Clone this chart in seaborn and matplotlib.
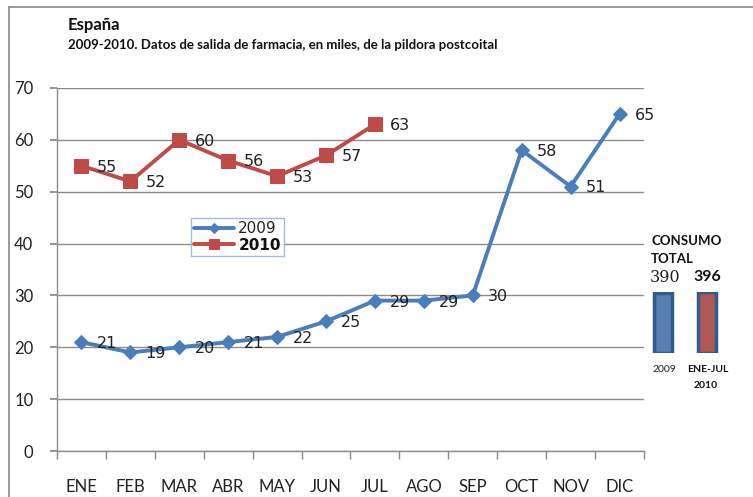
import matplotlib
matplotlib.use("Agg")
import matplotlib.pyplot as plt
import seaborn as sns
import pandas as pd
from matplotlib.lines import Line2D

months = ["ENE", "FEB", "MAR", "ABR", "MAY", "JUN", "JUL", "AGO", "SEP", "OCT", "NOV", "DIC"]
v2009 = [21, 19, 20, 21, 22, 25, 29, 29, 30, 58, 51, 65]
v2010 = [55, 52, 60, 56, 53, 57, 63]
totals_labels = ["2009", "ENE-JUL 2010"]
totals = [390, 396]
yticks = [0, 10, 20, 30, 40, 50, 60, 70]

C09 = "#4a7ebb"
C10 = "#be4b48"

sns.set_theme(style="white")
plt.rcParams["font.family"] = ["Lato", "DejaVu Sans"]

W, H = 753, 497
fig = plt.figure(figsize=(W / 100, H / 100), dpi=100)
fig.patch.set_facecolor("white")

# frame lines (left and top)
fig.add_artist(Line2D([9 / W, 9 / W], [0, 1 - 7 / H], color="#888888", lw=1.2))
fig.add_artist(Line2D([9 / W, 1], [1 - 7 / H, 1 - 7 / H], color="#888888", lw=1.2))

ax_l, ax_r, ax_b, ax_t = 57, 644, 451, 88
ax = fig.add_axes([ax_l / W, 1 - ax_b / H, (ax_r - ax_l) / W, (ax_b - ax_t) / H])

df09 = pd.DataFrame({"mes": months, "v": v2009})
df10 = pd.DataFrame({"mes": months[:len(v2010)], "v": v2010})

sns.lineplot(data=df09, x="mes", y="v", ax=ax, color=C09, lw=2.8, marker="D",
             markersize=7, markeredgecolor=C09, sort=False, label="2009")
sns.lineplot(data=df10, x="mes", y="v", ax=ax, color=C10, lw=2.8, marker="s",
             markersize=10, markeredgecolor=C10, sort=False, label="2010")

for i, v in enumerate(v2009):
    ax.annotate(str(v), (i, v), xytext=(11, -1), textcoords="offset points",
                ha="left", va="center", fontsize=11.5, color="#222222", family="DejaVu Sans")
for i, v in enumerate(v2010):
    ax.annotate(str(v), (i, v), xytext=(11, -1), textcoords="offset points",
                ha="left", va="center", fontsize=11.5, color="#222222", family="DejaVu Sans")

ax.set_xlim(-0.5, len(months) - 0.5)
ax.set_ylim(0, 70)
ax.set_yticks(yticks)
ax.set_yticklabels([str(t) for t in yticks], fontsize=12, color="#222222")
ax.set_xticks(range(len(months)))
ax.set_xticklabels(months, fontsize=12, color="#222222")
ax.set_xticks([i - 0.5 for i in range(len(months) + 1)], minor=True)
ax.tick_params(axis="x", which="major", length=0, pad=20)
ax.tick_params(axis="x", which="minor", length=6, color="#888888", direction="out", bottom=True)
ax.tick_params(axis="y", which="major", length=5, color="#888888", direction="out", pad=12, left=True)
ax.grid(axis="y", color="#8c8c8c", lw=1)
ax.set_axisbelow(True)
ax.set_xlabel("")
ax.set_ylabel("")
for s in ["top", "right"]:
    ax.spines[s].set_visible(False)
for s in ["left", "bottom"]:
    ax.spines[s].set_color("#8c8c8c")
    ax.spines[s].set_linewidth(1)

leg = ax.legend(loc="upper left", bbox_to_anchor=((191 - ax_l) / (ax_r - ax_l), (ax_b - 218) / (ax_b - ax_t)),
                frameon=True, fancybox=False, handlelength=2.6, markerscale=0.7,
                borderpad=0.2, labelspacing=0.1, handletextpad=0.3, borderaxespad=0,
                prop={"family": "DejaVu Sans", "size": 11})
leg.get_frame().set_edgecolor("#8fa9d6")
leg.get_frame().set_linewidth(1)
texts = leg.get_texts()
texts[0].set_color("#222222")
texts[1].set_fontweight("bold")
texts[1].set_color("#111111")

# titles
fig.text(68 / W, 1 - 25 / H, "España", fontsize=12, fontweight="bold", va="center", ha="left", color="#111111")
fig.text(68 / W, 1 - 45 / H, "2009-2010. Datos de salida de farmacia, en miles, de la pildora postcoital",
         fontsize=9.5, fontweight="bold", va="center", ha="left", color="#111111")

# total consumption bars
bx_l, bx_r = 641, 729
by_b, by_t = 353, 292
bax = fig.add_axes([bx_l / W, 1 - by_b / H, (bx_r - bx_l) / W, (by_b - by_t) / H])
dft = pd.DataFrame({"k": totals_labels, "v": totals})
sns.barplot(data=dft, x="k", y="v", hue="k", palette=[C09, C10], ax=bax, width=0.42,
            edgecolor="#2f5b8f", linewidth=2.5, legend=False)
bax.set_xlim(-0.5, 1.5)
bax.set_ylim(0, max(totals))
bax.axis("off")

fig.text(651 / W, 1 - 241 / H, "CONSUMO", fontsize=9.5, fontweight="bold", va="center", ha="left", color="#111111")
fig.text(651 / W, 1 - 259 / H, "TOTAL", fontsize=9.5, fontweight="bold", va="center", ha="left", color="#111111")
fig.text(665 / W, 1 - 277 / H, str(totals[0]), fontsize=11.5, va="center", ha="center", color="#222222",
         family="DejaVu Serif")
fig.text(707 / W, 1 - 277 / H, str(totals[1]), fontsize=11.5, fontweight="bold", va="center", ha="center",
         color="#111111")
fig.text(664 / W, 1 - 369 / H, "2009", fontsize=7.5, va="center", ha="center", color="#222222")
fig.text(708 / W, 1 - 369 / H, "ENE-JUL", fontsize=7.5, fontweight="bold", va="center", ha="center", color="#111111")
fig.text(706 / W, 1 - 386 / H, "2010", fontsize=7.5, fontweight="bold", va="center", ha="center", color="#111111")

fig.savefig("out.png", dpi=100, facecolor="white")
